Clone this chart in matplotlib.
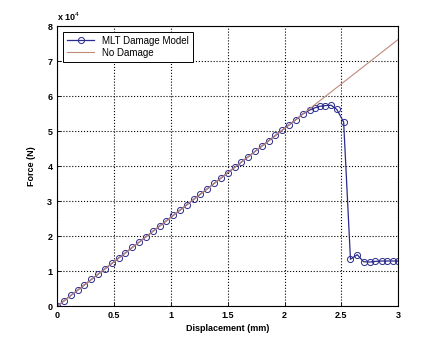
import matplotlib
matplotlib.use('Agg')
import matplotlib.pyplot as plt
import numpy as np

plt.rcParams['font.family'] = ['Liberation Sans', 'DejaVu Sans']

# MLT damage model: displacement (mm) and force (N)
disp_mlt = [0.00, 0.06, 0.12, 0.18, 0.24, 0.30, 0.36, 0.42, 0.48, 0.54,
            0.60, 0.66, 0.72, 0.78, 0.84, 0.90, 0.96, 1.02, 1.08, 1.14,
            1.20, 1.26, 1.32, 1.38, 1.44, 1.50, 1.56, 1.62, 1.68, 1.74,
            1.80, 1.86, 1.92, 1.98, 2.04, 2.10, 2.16, 2.22, 2.27, 2.31,
            2.36, 2.41, 2.46, 2.52, 2.58, 2.64, 2.695, 2.75, 2.80, 2.855,
            2.905, 2.95, 3.00]
force_mlt = [0, 1520, 3050, 4570, 6100, 7620, 9140, 10670, 12190, 13720,
             15240, 16760, 18290, 19810, 21340, 22860, 24380, 25910, 27430, 28960,
             30480, 32000, 33530, 35050, 36580, 38100, 39620, 41150, 42670, 44200,
             45720, 47240, 48770, 50290, 51800, 53300, 54900, 56000, 56700, 57100,
             57300, 57400, 56200, 52600, 13400, 14700, 12700, 12600, 12800, 12900,
             12900, 12900, 12900]

# linear-elastic response without damage
disp_nd = [0.0, 3.0]
force_nd = [0, 76200]

fig = plt.figure(figsize=(4.4, 3.44), dpi=100)
ax = fig.add_axes([0.13, 0.11, 0.775, 0.814])

ax.plot(np.array(disp_mlt), np.array(force_mlt) / 1e4, color='#2b2b8c', lw=0.9,
        marker='o', ms=4.4, mfc='none', mec='#2b2b8c', mew=0.7,
        label='MLT Damage Model')
ax.plot(disp_nd, np.array(force_nd) / 1e4, color='#c08a78', lw=0.8,
        label='No Damage')

ax.set_xlim(0, 3)
ax.set_ylim(0, 8)
ax.set_xticks([0, 0.5, 1, 1.5, 2, 2.5, 3])
ax.set_xticklabels(['0', '0.5', '1', '1.5', '2', '2.5', '3'])
ax.set_yticks(range(9))
ax.grid(True, color='black', ls=':', lw=0.8)
ax.tick_params(direction='in', length=3, labelsize=6.5, width=0.6)
for lab in ax.get_xticklabels() + ax.get_yticklabels():
    lab.set_fontweight('bold')
for sp in ax.spines.values():
    sp.set_linewidth(0.8)

ax.set_xlabel('Displacement (mm)', fontsize=6.5, fontweight='bold', labelpad=3)
ax.set_ylabel('Force (N)', fontsize=6.5, fontweight='bold', labelpad=8)
ax.text(0.0, 1.01, r'x 10$^4$', transform=ax.transAxes, fontsize=6.5,
        fontweight='bold', ha='left', va='bottom')

leg = ax.legend(loc='upper left', fontsize=7, frameon=True, fancybox=False,
                edgecolor='black', framealpha=1, borderpad=0.4,
                handlelength=2.8, numpoints=1, borderaxespad=0.6,
                labelspacing=0.2)
leg.get_frame().set_linewidth(0.7)

fig.savefig('out.png', dpi=100, facecolor='white')
